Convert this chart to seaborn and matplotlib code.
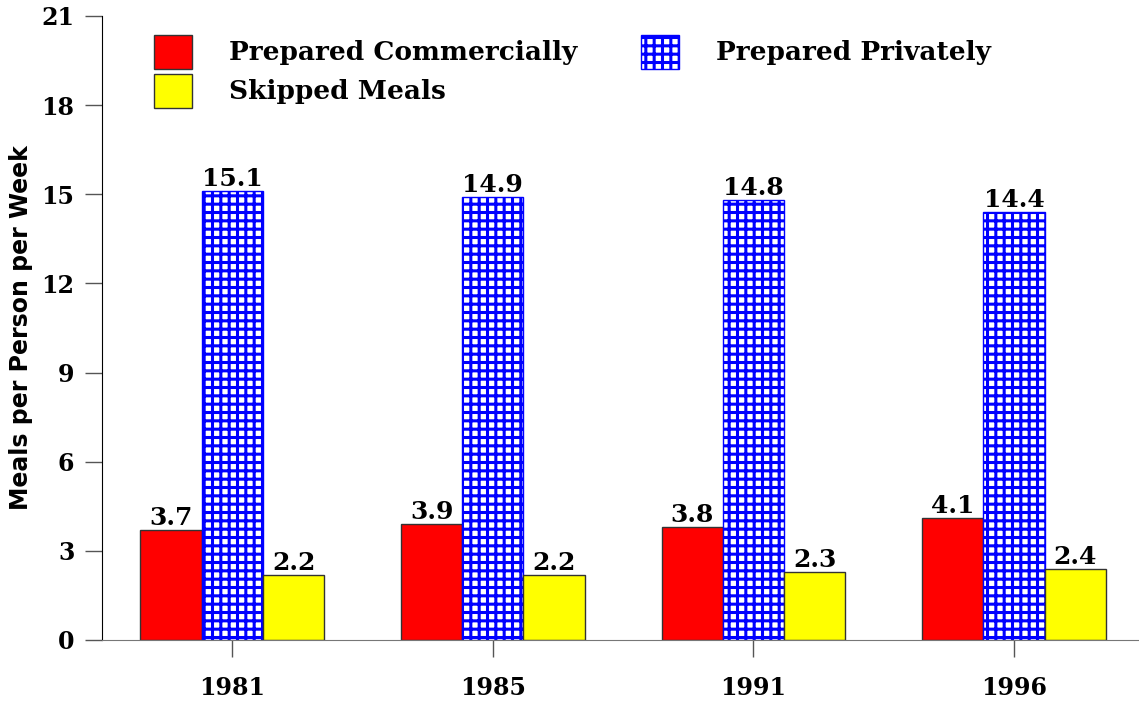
import pandas as pd
import seaborn as sns
import matplotlib.pyplot as plt
from matplotlib.patches import Patch

years = ['1981', '1985', '1991', '1996']
commercial = [3.7, 3.9, 3.8, 4.1]
private = [15.1, 14.9, 14.8, 14.4]
skipped = [2.2, 2.2, 2.3, 2.4]
series = ['Prepared Commercially', 'Prepared Privately', 'Skipped Meals']
colors = ['#ff0000', '#ffffff', '#ffff00']

rows = []
for name, vals in zip(series, [commercial, private, skipped]):
    for y, v in zip(years, vals):
        rows.append({'Year': y, 'Series': name, 'Value': v})
data = pd.DataFrame(rows)

sns.set_style('white')
plt.rcParams['font.family'] = ['DejaVu Serif']
plt.rcParams['hatch.linewidth'] = 2.2
plt.rcParams['text.color'] = 'black'
plt.rcParams['xtick.color'] = 'black'
plt.rcParams['ytick.color'] = 'black'
plt.rcParams['axes.labelcolor'] = 'black'

fig = plt.figure(figsize=(11.39, 7.06), dpi=100)
ax = fig.add_axes([0.0896, 0.0935, 0.915, 0.884])

sns.barplot(data=data, x='Year', y='Value', hue='Series', palette=colors,
            width=0.705, ax=ax, legend=False, saturation=1,
            edgecolor='#333333', linewidth=1)

# hatch for privately prepared meals
for bar in ax.containers[1]:
    bar.set_hatch('++')
    bar.set_edgecolor('#0000ff')

for cont in ax.containers:
    ax.bar_label(cont, fmt='%.1f', padding=0, fontsize=18, fontweight='bold')

ax.set_ylim(0, 21)
ax.set_xlim(-0.5, 3.5)
ax.set_yticks(range(0, 22, 3))
ax.set_xlabel('')
ax.set_ylabel('Meals per Person per Week', family='DejaVu Sans',
              fontsize=17, fontweight='bold')
ax.yaxis.set_label_coords(-0.066, 0.5)
ax.tick_params(axis='both', direction='out', length=12, width=1,
               color='#555555', labelsize=17, pad=8,
               left=True, bottom=True)
ax.tick_params(axis='x', pad=14)
for lab in ax.get_xticklabels() + ax.get_yticklabels():
    lab.set_fontweight('bold')

sns.despine(ax=ax, top=True, right=True)
ax.spines['left'].set_color('black')
ax.spines['bottom'].set_color('#777777')

handles = [Patch(facecolor=colors[0], edgecolor='#333333'),
           Patch(facecolor=colors[2], edgecolor='#333333'),
           Patch(facecolor='white', edgecolor='#0000ff', hatch='++')]
labels = [series[0], series[2], series[1]]
ax.legend(handles, labels, ncol=2, frameon=False, loc='upper left',
          bbox_to_anchor=(0.027, 1.008), prop={'weight': 'bold', 'size': 19},
          handlelength=1.45, handleheight=1.6, handletextpad=1.4,
          columnspacing=2.4, labelspacing=0.2)

fig.savefig('out.png', dpi=100)
